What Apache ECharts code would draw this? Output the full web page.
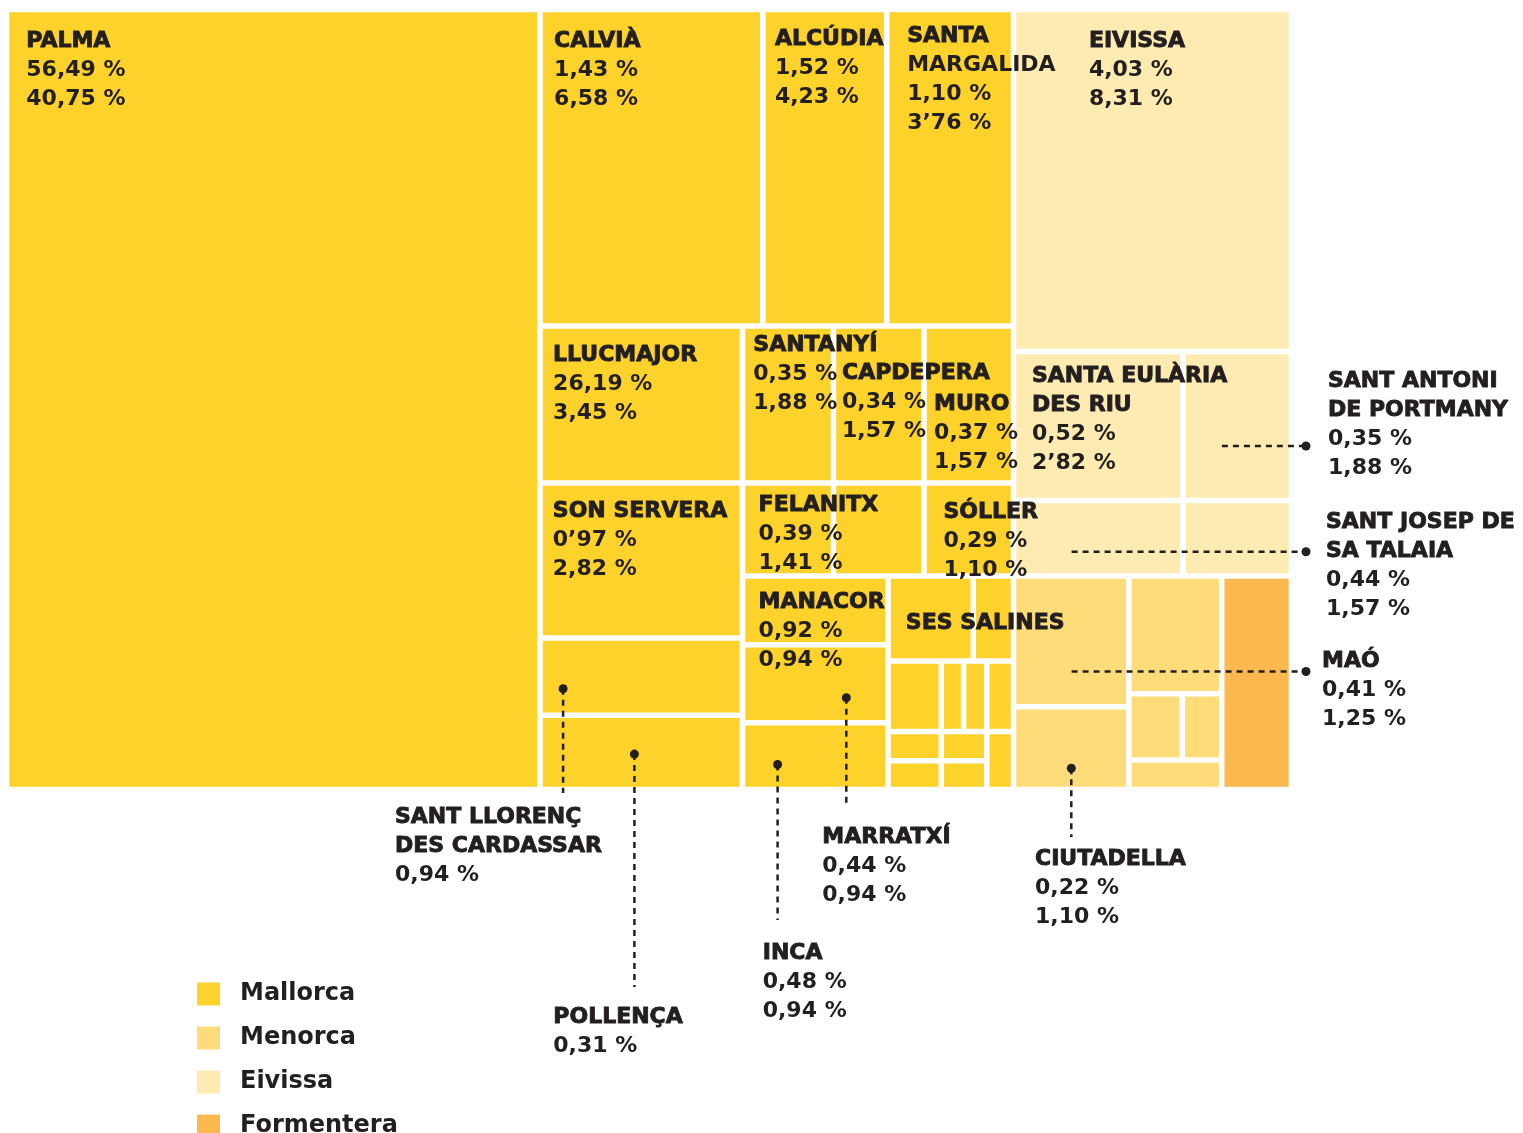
<!DOCTYPE html>
<html>
<head>
<meta charset="utf-8">
<title>Municipis de les Illes Balears</title>
<script src="https://cdn.jsdelivr.net/npm/echarts@6/dist/echarts.min.js"></script>
<style>
  html, body { margin: 0; background: #fff; }
  #chart { width: 1523px; height: 1133px; }
</style>
</head>
<body>
<div id="chart"></div>
<script>
// one entry per cell of the treemap ('' = cell without a label)
const cellKeys = ['palma', 'calvia', 'alcudia', 'margalida', 'llucmajor', 'sonservera', 'santllorenc', 'pollenca',
  'santanyi', 'capdepera', 'muro', 'felanitx', 'm1', 'soller', 'manacor', 'marratxi', 'inca', 'sessalines',
  'm2', 'm3', 'm4', 'm5', 'm6', 'm7', 'm8', 'm9', 'm10', 'm11',
  'eivissa', 'santaeularia', 'santantoni', 'santjosep', 'e1',
  'mao', 'ciutadella', 'n1', 'n2', 'n3', 'n4',
  'formentera'];
const cellNames = ['PALMA', 'CALVIÀ', 'ALCÚDIA', 'SANTA\nMARGALIDA', 'LLUCMAJOR', 'SON SERVERA', 'SANT LLORENÇ\nDES CARDASSAR', 'POLLENÇA',
  'SANTANYÍ', 'CAPDEPERA', 'MURO', 'FELANITX', '', 'SÓLLER', 'MANACOR', 'MARRATXÍ', 'INCA', 'SES SALINES',
  '', '', '', '', '', '', '', '', '', '',
  'EIVISSA', 'SANTA EULÀRIA\nDES RIU', 'SANT ANTONI\nDE PORTMANY', 'SANT JOSEP DE\nSA TALAIA', '',
  'MAÓ', 'CIUTADELLA', '', '', '', '',
  ''];
const cellIsland = [0, 0, 0, 0, 0, 0, 0, 0, 0, 0, 0, 0, 0, 0, 0, 0, 0, 0, 0, 0, 0, 0, 0, 0, 0, 0, 0, 0,
  2, 2, 2, 2, 2,
  1, 1, 1, 1, 1, 1,
  3];
const pctFirst = ['56,49 %', '1,43 %', '1,52 %', '1,10 %', '26,19 %', '0’97 %', '0,94 %', '0,31 %',
  '0,35 %', '0,34 %', '0,37 %', '0,39 %', '', '0,29 %', '0,92 %', '0,44 %', '0,48 %', '',
  '', '', '', '', '', '', '', '', '', '',
  '4,03 %', '0,52 %', '0,35 %', '0,44 %', '',
  '0,41 %', '0,22 %', '', '', '', '',
  ''];
const pctSecond = ['40,75 %', '6,58 %', '4,23 %', '3’76 %', '3,45 %', '2,82 %', '', '',
  '1,88 %', '1,57 %', '1,57 %', '1,41 %', '', '1,10 %', '0,94 %', '0,94 %', '0,94 %', '',
  '', '', '', '', '', '', '', '', '', '',
  '8,31 %', '2’82 %', '1,88 %', '1,57 %', '',
  '1,25 %', '1,10 %', '', '', '', '',
  ''];
// relative area of each cell
const cellSize = [416130, 70516, 39214, 40132, 31793, 31388, 15653, 15026,
  14287, 14209, 14052, 8463, 8417, 8324, 9996, 11349, 9719, 7251,
  3417, 3758, 1572, 1629, 1889, 1562, 1330, 1530, 1303, 1554,
  95076, 25226, 16196, 12782, 8207,
  15070, 9547, 10944, 3535, 2615, 2741,
  14902];
const islands = ['Mallorca', 'Menorca', 'Eivissa', 'Formentera'];
const islandColors = ['#FDD22A', '#FEDC7A', '#FEEBB2', '#FBB84F'];

// how the cells nest: 'h' = side by side, 'v' = stacked
const layoutTree = ['h',
  ['h', 'palma',
    ['v',
      ['h', 'calvia', 'alcudia', 'margalida'],
      ['h',
        ['v', 'llucmajor', 'sonservera', 'santllorenc', 'pollenca'],
        ['v',
          ['h', ['v', 'santanyi', 'felanitx'], ['v', 'capdepera', 'm1'], ['v', 'muro', 'soller']],
          ['h',
            ['v', 'manacor', 'marratxi', 'inca'],
            ['v',
              ['h', 'sessalines', 'm2'],
              ['h', 'm3', 'm4', 'm5', 'm6'],
              ['h', ['v', ['h', 'm7', 'm8'], ['h', 'm9', 'm10']], 'm11']]]]]]],
  ['v',
    ['v', 'eivissa', ['v', ['h', 'santaeularia', 'santantoni'], ['h', 'santjosep', 'e1']]],
    ['h', ['v', 'mao', 'ciutadella'], ['v', 'n1', ['h', 'n2', 'n3'], 'n4'], 'formentera']]
];

// label offsets inside the cell [dx, dy of first line, heavy lines]
const labelAt = {
  palma: [17, 28.7], calvia: [11.3, 28.7], alcudia: [9.3, 26.7], margalida: [17.7, 23.5, 1],
  eivissa: [72.6, 28.7], llucmajor: [10.3, 26.3], santanyi: [8, 16.8], capdepera: [5.7, 44.8],
  muro: [7.3, 75.5], santaeularia: [15.6, 21.8], sonservera: [10, 25.1], felanitx: [13.3, 19.4],
  soller: [16.6, 26.1], manacor: [13.3, 23.8], sessalines: [15, 44.5]
};
// labels outside the treemap with a dotted leader
const callouts = {
  santllorenc: { dot: [20.3, 48], down: 793, text: [395, 817.5] },
  pollenca: { dot: [91.6, 36], down: 987, text: [553.3, 1017.5] },
  inca: { dot: [32.3, 39], down: 920, text: [762.7, 953.5] },
  marratxi: { dot: [101, 50.3], down: 805, text: [822.3, 836.8] },
  ciutadella: { dot: [55, 58.7], down: 837, text: [1035, 858.8] },
  santantoni: { from: [36.3, 91.7], right: 1306, text: [1328, 380.8] },
  santjosep: { from: [55.3, 48.4], right: 1306, text: [1326, 521.8] },
  mao: { from: [55.3, 92.7], right: 1306, text: [1322, 660.8] }
};

const INK = '#231F20';
const FONT = '"DejaVu Sans", sans-serif';
const GAP = 2.8;
const LINE = 29;

function sizeOf(node) {
  if (typeof node === 'string') return cellSize[cellKeys.indexOf(node)];
  return node.slice(1).reduce((s, c) => s + sizeOf(c), 0);
}

function place(node, x0, y0, x1, y1, out) {
  if (typeof node === 'string') {
    out[node] = [x0, y0, x1, y1];
    return;
  }
  const total = sizeOf(node);
  let acc = 0;
  node.slice(1).forEach(k => {
    const a = acc / total;
    acc += sizeOf(k);
    const b = acc / total;
    if (node[0] === 'h') place(k, x0 + (x1 - x0) * a, y0, x0 + (x1 - x0) * b, y1, out);
    else place(k, x0, y0 + (y1 - y0) * a, x1, y0 + (y1 - y0) * b, out);
  });
}

const rects = {};
place(layoutTree, 0, 0, 1, 1, rects);

function cellBox(api) {
  const a = api.coord([api.value(0), api.value(1)]);
  const b = api.coord([api.value(2), api.value(3)]);
  return { x: a[0] + GAP, y: a[1] + GAP, w: b[0] - a[0] - 2 * GAP, h: b[1] - a[1] - 2 * GAP };
}

function renderCell(params, api) {
  const r = cellBox(api);
  return {
    type: 'rect',
    shape: { x: r.x, y: r.y, width: r.w, height: r.h },
    style: { fill: api.visual('color') }
  };
}

function textBlock(lines, x, y, heavy) {
  return lines.map((t, j) => ({
    type: 'text',
    x: x,
    y: y + j * LINE,
    style: {
      text: t, fill: INK, fontFamily: FONT, fontWeight: 'bold', fontSize: 22,
      align: 'left', verticalAlign: 'middle',
      stroke: j < heavy ? INK : 'none', lineWidth: j < heavy ? 0.9 : 0
    }
  }));
}

function renderLabel(params, api) {
  const i = api.value(4);
  const key = cellKeys[i];
  const r = cellBox(api);
  const name = cellNames[i].split('\n');
  const lines = name.concat([pctFirst[i], pctSecond[i]].filter(Boolean));
  const kids = [];
  if (labelAt[key]) {
    const p = labelAt[key];
    kids.push(...textBlock(lines, r.x + p[0], r.y + p[1], p[2] != null ? p[2] : name.length));
  }
  const c = callouts[key];
  if (c) {
    const dash = { stroke: INK, lineWidth: 2.5, lineDash: [6, 5] };
    if (c.dot) {
      const cx = r.x + c.dot[0], cy = r.y + c.dot[1];
      kids.push({ type: 'line', shape: { x1: cx, y1: cy, x2: cx, y2: c.down }, style: dash });
      kids.push({ type: 'circle', shape: { cx: cx, cy: cy, r: 4.5 }, style: { fill: INK } });
    } else {
      const sx = r.x + c.from[0], sy = r.y + c.from[1];
      kids.push({ type: 'line', shape: { x1: sx, y1: sy, x2: c.right - 4, y2: sy }, style: dash });
      kids.push({ type: 'circle', shape: { cx: c.right, cy: sy, r: 4.5 }, style: { fill: INK } });
    }
    kids.push(...textBlock(lines, c.text[0], c.text[1], name.length));
  }
  return { type: 'group', children: kids };
}

function cellData(filter) {
  const out = [];
  cellKeys.forEach((k, i) => {
    if (filter(i)) out.push(rects[k].concat([i]));
  });
  return out;
}

const series = islands.map((isl, n) => ({
  name: isl,
  type: 'custom',
  coordinateSystem: 'cartesian2d',
  clip: false,
  silent: true,
  itemStyle: { color: islandColors[n] },
  renderItem: renderCell,
  data: cellData(i => cellIsland[i] === n)
}));
series.push({
  name: 'labels',
  type: 'custom',
  coordinateSystem: 'cartesian2d',
  clip: false,
  silent: true,
  z: 10,
  renderItem: renderLabel,
  data: cellData(i => cellNames[i] !== '')
});

const chart = echarts.init(document.getElementById('chart'));
chart.setOption({
  animation: false,
  backgroundColor: '#fff',
  grid: { left: 6.5, top: 9.5, width: 1285, height: 780 },
  xAxis: { type: 'value', min: 0, max: 1, show: false },
  yAxis: { type: 'value', min: 0, max: 1, inverse: true, show: false },
  legend: {
    data: islands,
    orient: 'vertical',
    left: 197,
    top: 982,
    height: 200,
    width: 300,
    padding: 0,
    icon: 'rect',
    itemWidth: 23,
    itemHeight: 23,
    itemGap: 20,
    selectedMode: false,
    textStyle: {
      fontFamily: FONT, fontWeight: 'bold', fontSize: 24, color: INK,
      lineHeight: 23, padding: [0, 0, 0, 15]
    }
  },
  series: series
});
</script>
</body>
</html>
